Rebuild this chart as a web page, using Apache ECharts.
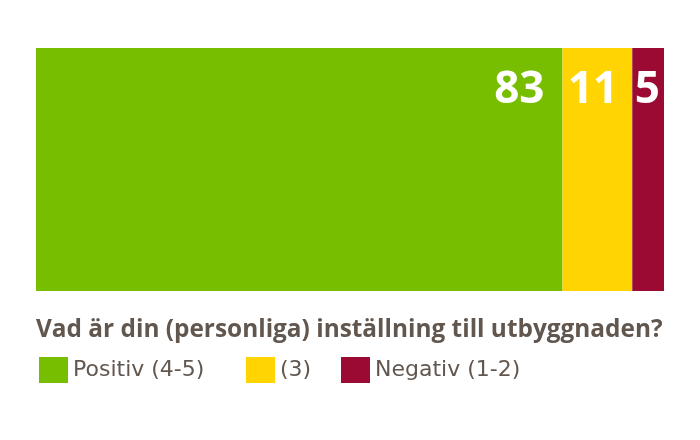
<!DOCTYPE html>
<html><head><meta charset="utf-8">
<script src="https://cdn.jsdelivr.net/npm/echarts@6/dist/echarts.min.js"></script>
<style>html,body{margin:0;padding:0;background:#fff}#c{width:700px;height:440px}</style>
</head><body><div id="c"></div>
<script>
const categories = ['Vad är din (personliga) inställning till utbyggnaden?'];
const seriesNames = ['Positiv (4-5)', '(3)', 'Negativ (1-2)'];
const positiv = [83];
const neutral = [11];
const negativ = [5];
const colors = ['#78BE00', '#FFD400', '#9B0A32'];
const values = [positiv, neutral, negativ];
const legendLeft = [39, 246, 341];
const FONT = 'Open Sans';
const TEXT = '#62574f';
const chart = echarts.init(document.getElementById('c'));
chart.setOption({
  animation: false,
  title: {
    text: categories[0], left: 36, top: 318, padding: 0,
    textStyle: {fontFamily: FONT, fontSize: 24.4, fontWeight: 'bold', color: TEXT}
  },
  legend: seriesNames.map((n, i) => ({
    left: legendLeft[i], top: 357, padding: 0, itemWidth: 29, itemHeight: 26, icon: 'rect',
    textStyle: {fontFamily: 'DejaVu Sans', fontSize: 22, color: TEXT},
    data: [n]
  })),
  grid: {left: 36, right: 36, top: 48, height: 243},
  xAxis: {type: 'value', min: 0, max: 99, show: false},
  yAxis: {type: 'category', data: categories, show: false},
  series: seriesNames.map((n, i) => ({
    name: n, type: 'bar', stack: 'a', barWidth: '100%',
    data: values[i],
    itemStyle: {color: colors[i]},
    label: {
      show: true, position: 'insideTopRight', distance: 0, offset: [[-18,-14,-4][i], 20],
      fontFamily: FONT, fontSize: 44, fontWeight: 'bold', color: '#fff'
    }
  }))
});
</script></body></html>
